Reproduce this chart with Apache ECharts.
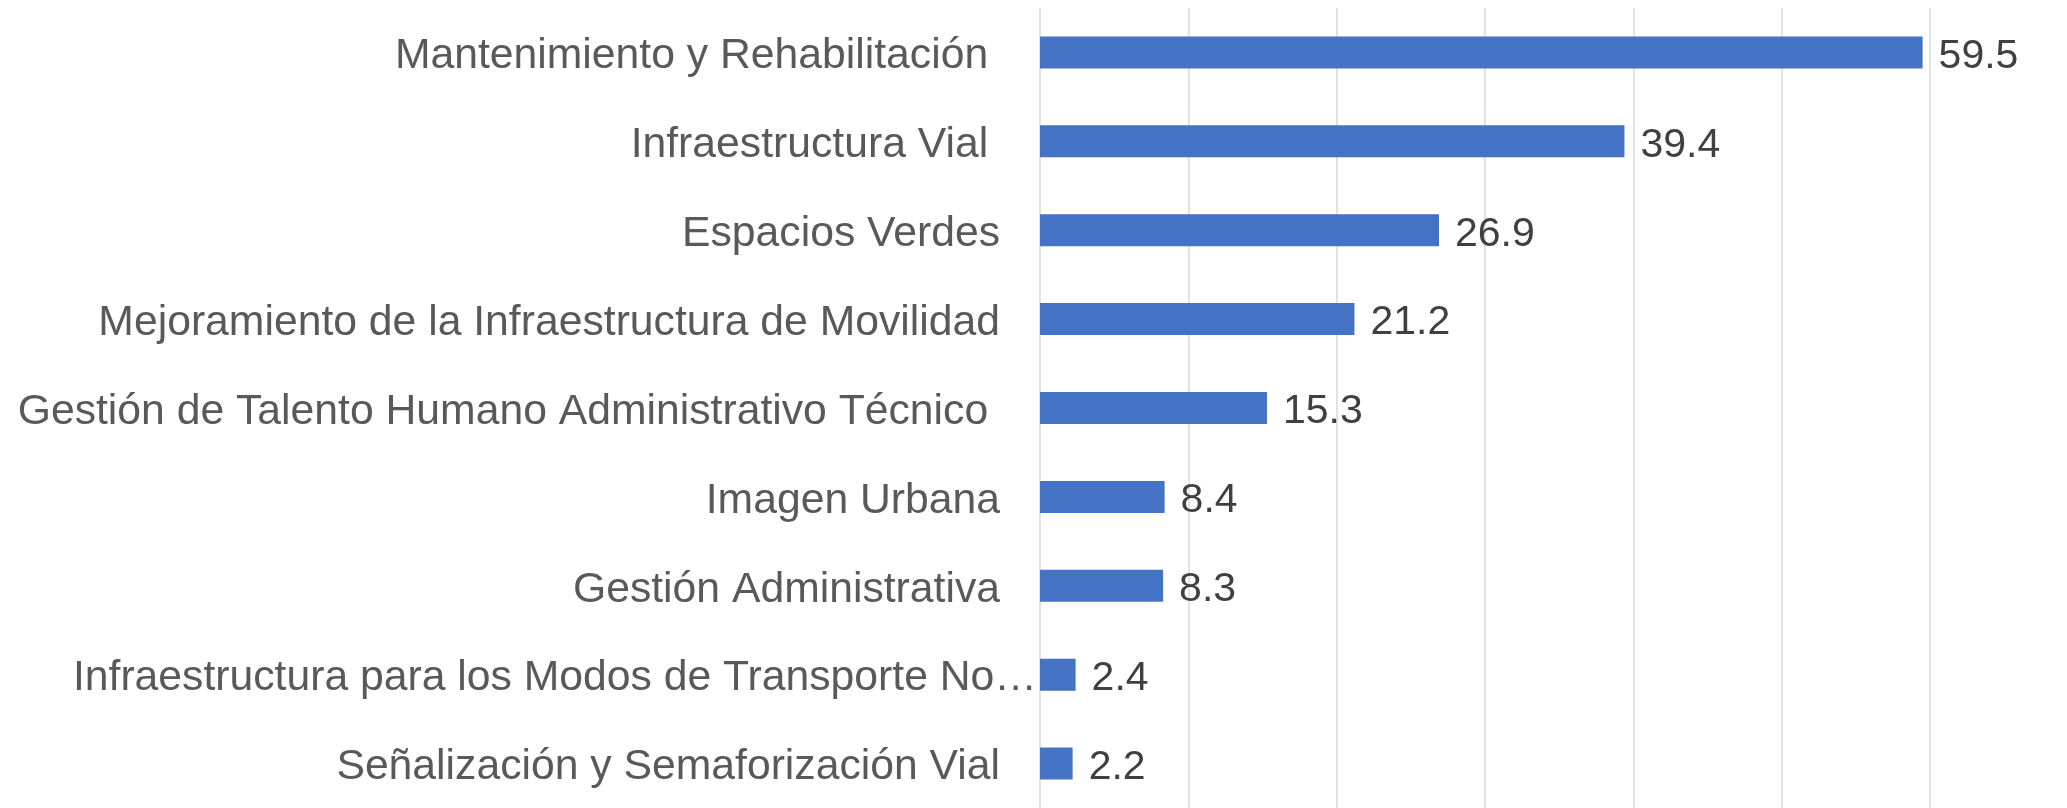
<!DOCTYPE html>
<html>
<head>
<meta charset="utf-8">
<script src="https://cdn.jsdelivr.net/npm/echarts@6/dist/echarts.min.js"></script>
<style>
html,body{margin:0;padding:0;background:#fff;}
#chart{width:2067px;height:808px;}
</style>
</head>
<body>
<div id="chart"></div>
<script>
const categories = [
  "Mantenimiento y Rehabilitación ",
  "Infraestructura Vial ",
  "Espacios Verdes",
  "Mejoramiento de la Infraestructura de Movilidad",
  "Gestión de Talento Humano Administrativo Técnico ",
  "Imagen Urbana",
  "Gestión Administrativa",
  "Infraestructura para los Modos de Transporte No…",
  "Señalización y Semaforización Vial"
];
const values = [59.5, 39.4, 26.9, 21.2, 15.3, 8.4, 8.3, 2.4, 2.2];
const truncatedLabels = ["Infraestructura para los Modos de Transporte No…"];

const chart = echarts.init(document.getElementById('chart'), null, {renderer: 'canvas'});
chart.setOption({
  animation: false,
  backgroundColor: '#ffffff',
  textStyle: {fontFamily: '"Liberation Sans", Arial, sans-serif'},
  grid: {left: 1040, right: 137, top: 8, bottom: 0, containLabel: false},
  xAxis: {
    type: 'value', min: 0, max: 60, interval: 10,
    axisLabel: {show: false}, axisTick: {show: false}, axisLine: {show: false},
    splitLine: {show: true, lineStyle: {color: '#D9D9D9', width: 1.5}}
  },
  yAxis: {
    type: 'category', data: categories, inverse: true,
    axisLine: {show: false}, axisTick: {show: false},
    axisLabel: {
      margin: 3,
      formatter: function (v) {
        return truncatedLabels.indexOf(v) >= 0 ? '{t|' + v + '}' : '{n|' + v + '}';
      },
      rich: {
        n: {fontSize: 42.7, color: '#595959', fontFamily: '"Liberation Sans", Arial, sans-serif', padding: [8, 37, 0, 0]},
        t: {fontSize: 42.7, color: '#595959', fontFamily: '"Liberation Sans", Arial, sans-serif', padding: [8, 0, 0, 0]}
      }
    }
  },
  series: [{
    type: 'bar', data: values, barWidth: 32,
    itemStyle: {color: '#4472C4'},
    label: {
      show: true, position: 'right', distance: 16, offset: [0, 4],
      fontSize: 41, color: '#404040',
      fontFamily: '"Liberation Sans", Arial, sans-serif',
      formatter: function (p) { return p.value.toFixed(1); }
    }
  }]
});
</script>
</body>
</html>
